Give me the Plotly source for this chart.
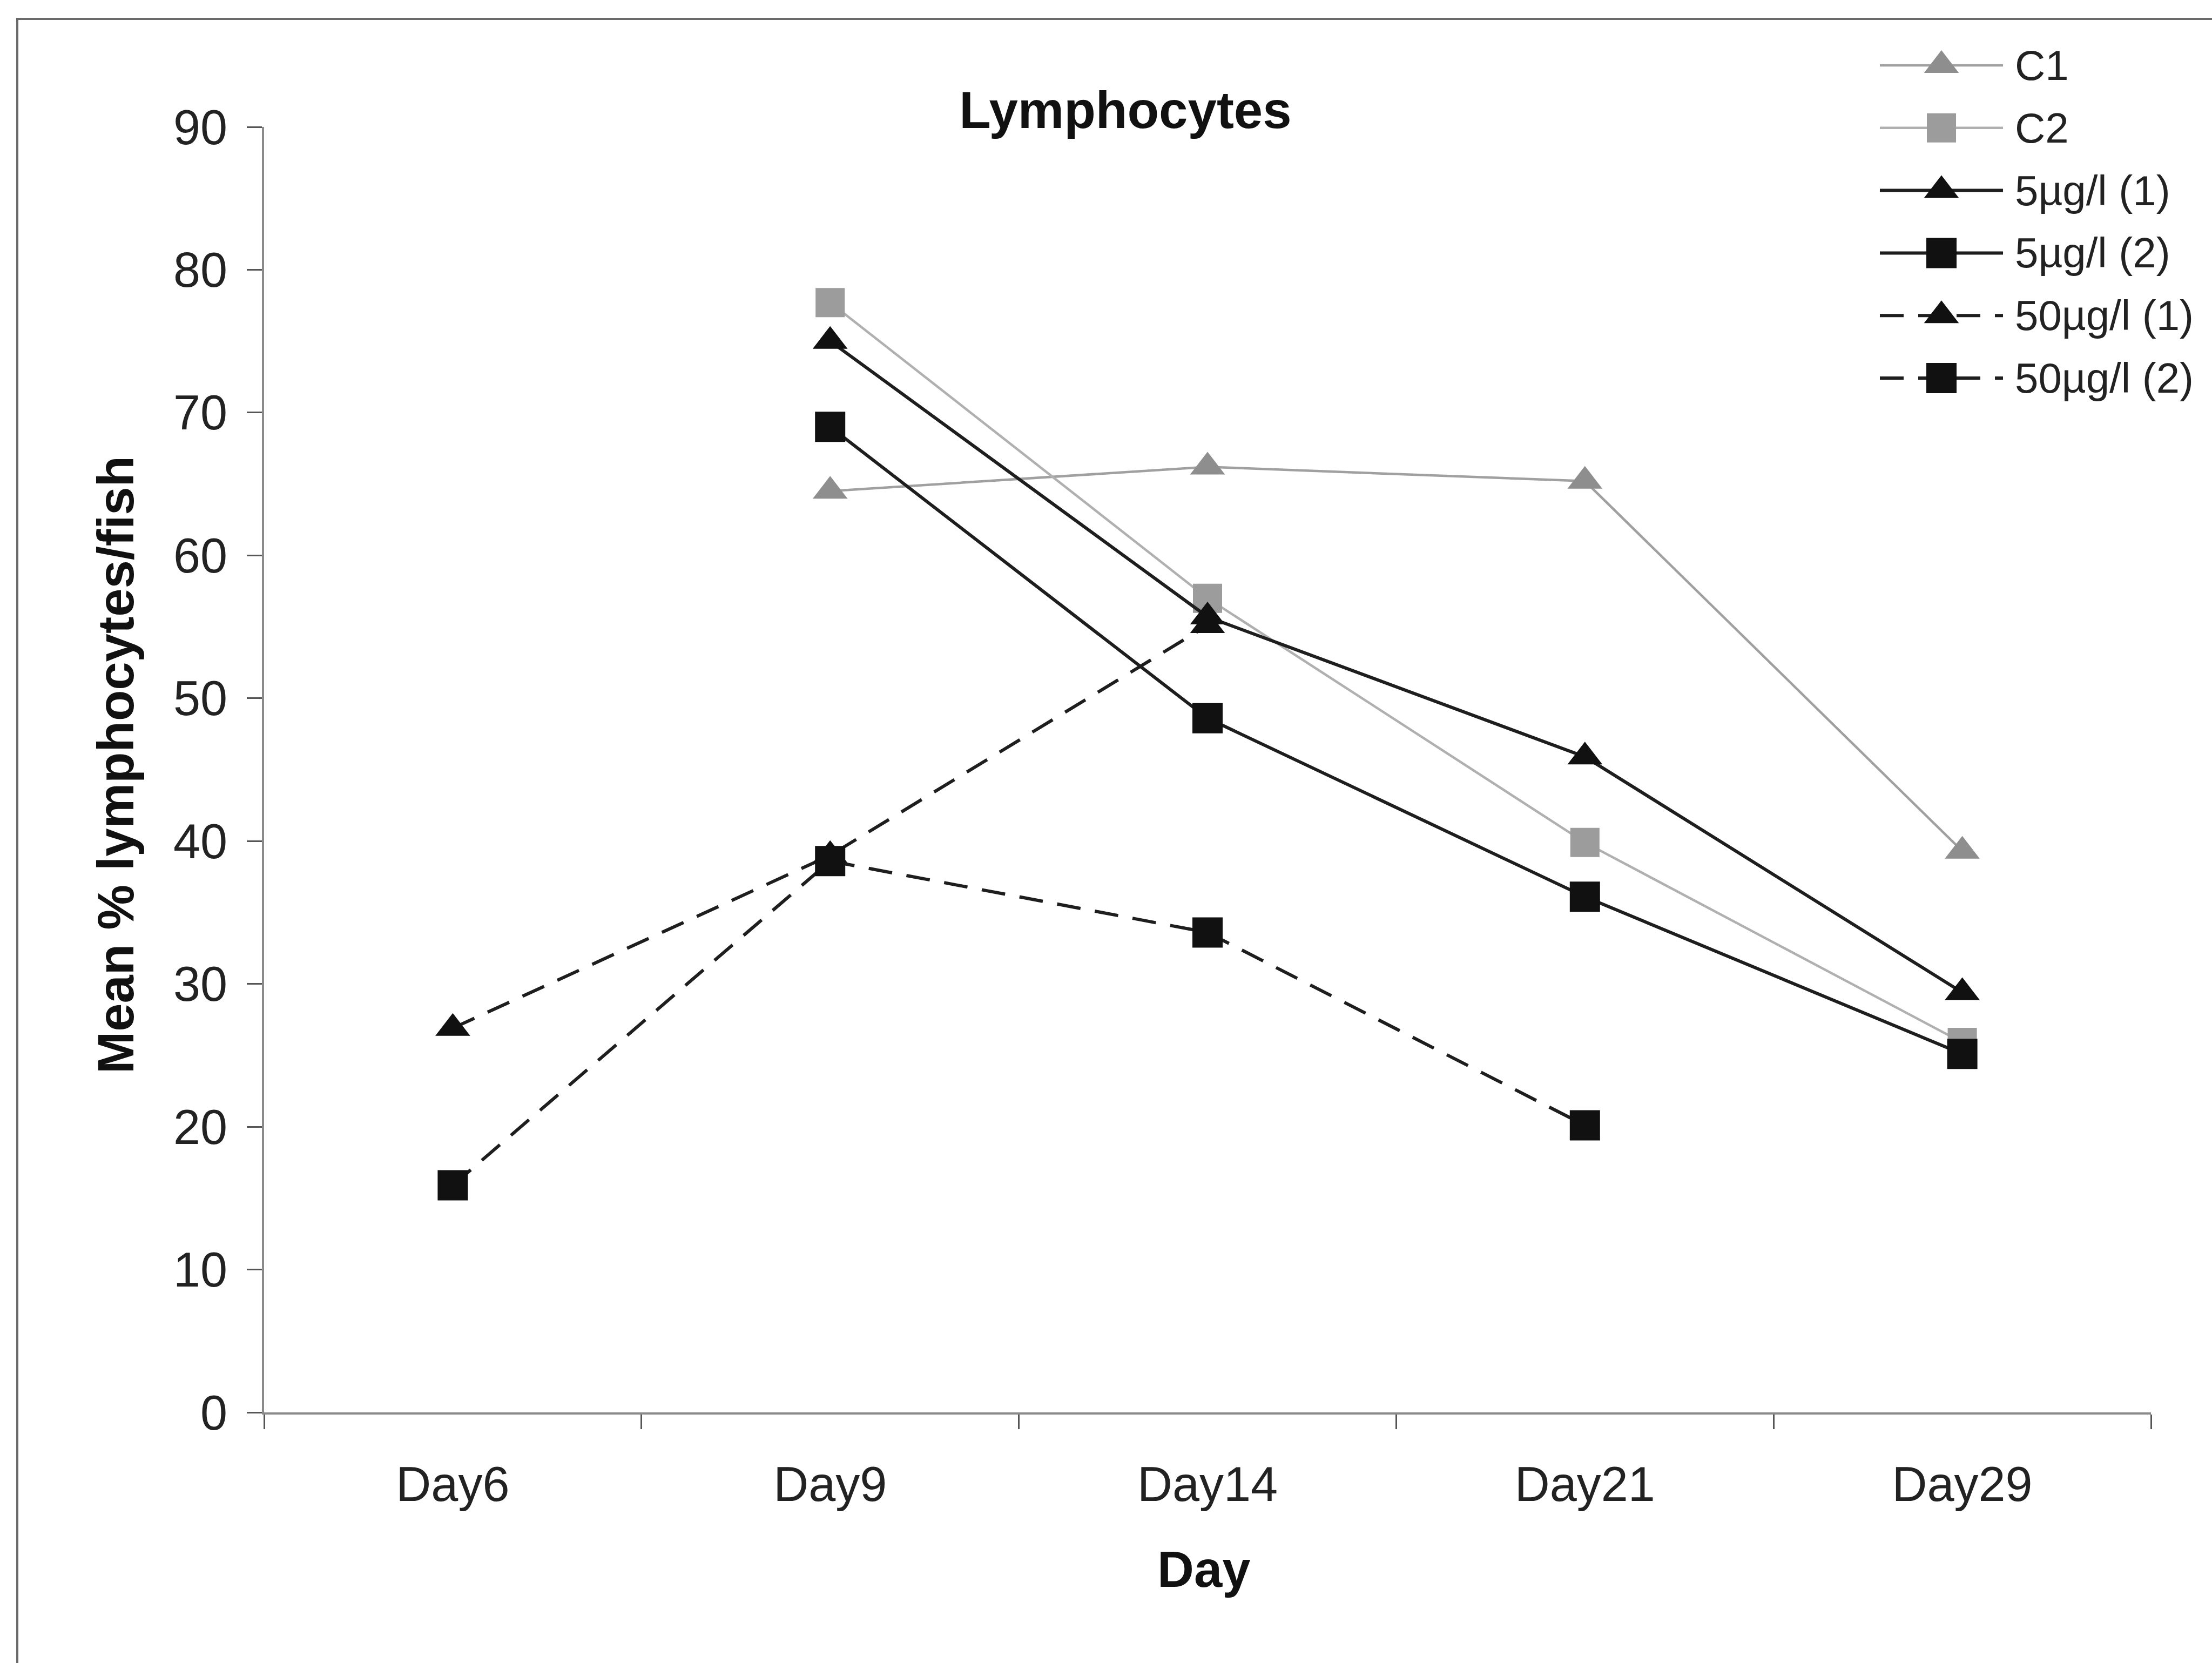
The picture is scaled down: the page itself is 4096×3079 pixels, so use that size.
import plotly.graph_objects as go

# ---- data ----
days = ["Day6", "Day9", "Day14", "Day21", "Day29"]
series_names = ["C1", "C2", "5µg/l (1)", "5µg/l (2)", "50µg/l (1)", "50µg/l (2)"]
c1 = [None, 64.5, 66.2, 65.2, 39.3]
c2 = [None, 77.7, 57.0, 39.9, 25.9]
g5_1 = [None, 75.0, 55.7, 45.9, 29.4]
g5_2 = [None, 69.0, 48.6, 36.1, 25.1]
g50_1 = [26.9, 39.0, 55.1, None, None]
g50_2 = [15.9, 38.6, 33.6, 20.1, None]
y_ticks = [0, 10, 20, 30, 40, 50, 60, 70, 80, 90]

W, H = 4096, 3079
FONT = "Liberation Sans, Arial, Helvetica, sans-serif"

styles = [
    dict(line=dict(color="#a0a0a0", width=4.5), marker=dict(symbol="triangle-up", size=56, color="#8e8e8e")),
    dict(line=dict(color="#b0b0b0", width=4.5), marker=dict(symbol="square", size=54, color="#9c9c9c")),
    dict(line=dict(color="#1e1e1e", width=6), marker=dict(symbol="triangle-up", size=56, color="#111111")),
    dict(line=dict(color="#1e1e1e", width=6), marker=dict(symbol="square", size=56, color="#111111")),
    dict(line=dict(color="#1e1e1e", width=6, dash="44px,27px"), marker=dict(symbol="triangle-up", size=56, color="#111111")),
    dict(line=dict(color="#1e1e1e", width=6, dash="44px,27px"), marker=dict(symbol="square", size=56, color="#111111")),
]
values = [c1, c2, g5_1, g5_2, g50_1, g50_2]

fig = go.Figure()
for name, vals, st in zip(series_names, values, styles):
    fig.add_trace(go.Scatter(
        x=days, y=vals, name=name, mode="lines+markers",
        line=st["line"], marker=dict(st["marker"], line=dict(width=0)),
        connectgaps=False, showlegend=False, xaxis="x", yaxis="y",
    ))

# ---- custom legend drawn on its own small axes ----
legend_x = [0, 1]
legend_mid = [0.5]
for i, (name, st) in enumerate(zip(series_names, styles)):
    fig.add_trace(go.Scatter(
        x=legend_x, y=[i, i], mode="lines", line=st["line"],
        showlegend=False, xaxis="x2", yaxis="y2", hoverinfo="skip",
    ))
    fig.add_trace(go.Scatter(
        x=legend_mid, y=[i], mode="markers", marker=dict(st["marker"], line=dict(width=0)),
        showlegend=False, xaxis="x2", yaxis="y2", hoverinfo="skip",
    ))

px = lambda v: v / W
py = lambda v: 1 - v / H

annotations = []
for i, name in enumerate(series_names):
    annotations.append(dict(
        text=name, x=1, y=i, xref="x2", yref="y2", xanchor="left", yanchor="middle",
        xshift=20, showarrow=False, font=dict(family=FONT, size=78, color="#222222"),
    ))
annotations.append(dict(
    text="<b>Mean % lymphocytes/fish</b>", x=px(214), y=py(1416), xref="paper", yref="paper",
    xanchor="center", yanchor="middle", textangle=-90, showarrow=False,
    font=dict(family=FONT, size=94, color="#111111"),
))
annotations.append(dict(
    text="<b>Day</b>", x=px(2229), y=py(2905), xref="paper", yref="paper",
    xanchor="center", yanchor="middle", showarrow=False,
    font=dict(family=FONT, size=94, color="#111111"),
))

fig.update_layout(
    width=W, height=H,
    margin=dict(l=0, r=0, t=0, b=0, autoexpand=False),
    paper_bgcolor="white", plot_bgcolor="white",
    font=dict(family=FONT, color="#222222"),
    title=dict(text="<b>Lymphocytes</b>", x=px(2084), y=py(203), xref="paper", yref="paper",
               xanchor="center", yanchor="middle",
               font=dict(family=FONT, size=96, color="#111111")),
    xaxis=dict(
        domain=[px(489), px(3983)], type="category", categoryorder="array", categoryarray=days,
        range=[-0.5, 4.5], tickson="boundaries", ticks="outside", ticklen=27, tickwidth=3,
        tickcolor="#555555", showline=True, linecolor="#8a8a8a", linewidth=4,
        showgrid=False, zeroline=False, tickfont=dict(family=FONT, size=90, color="#222222"),
        ticklabelstandoff=52, anchor="y", automargin=False, fixedrange=True,
    ),
    yaxis=dict(
        domain=[py(2615), py(235)], range=[0, 90], tickvals=y_ticks, ticks="outside",
        ticklen=28, tickwidth=3, tickcolor="#555555", showline=True, linecolor="#8a8a8a",
        linewidth=4, showgrid=False, zeroline=False, ticklabelstandoff=18,
        tickfont=dict(family=FONT, size=90, color="#222222"), anchor="x", automargin=False,
    ),
    xaxis2=dict(domain=[px(3481), px(3709)], range=[0, 1], visible=False, anchor="y2", fixedrange=True),
    yaxis2=dict(domain=[py(760), py(60)], range=[5 + 60 / 115.8, -61 / 115.8], visible=False,
                anchor="x2", fixedrange=True),
    annotations=annotations,
    shapes=[dict(type="rect", xref="paper", yref="paper", x0=px(32), x1=1.02, y0=-0.02, y1=py(35),
                 line=dict(color="#6a6a6a", width=4), fillcolor="rgba(0,0,0,0)", layer="below")],
)

fig.write_html("out.html")
